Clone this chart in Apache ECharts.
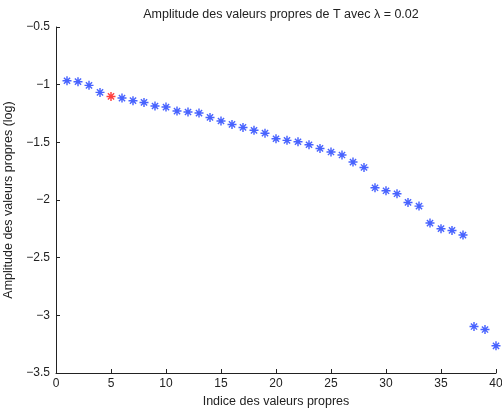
<!DOCTYPE html>
<html>
<head>
<meta charset="utf-8">
<script src="https://cdn.jsdelivr.net/npm/echarts@6/dist/echarts.min.js"></script>
<style>
  html, body { margin: 0; padding: 0; background: #fff; }
  #chart { width: 502px; height: 412px; }
</style>
</head>
<body>
<div id="chart"></div>
<script>
// eigenvalue index 1..40
const indices = [];
for (let i = 1; i <= 40; i++) indices.push(i);
// log amplitude
const amplitudes = [
  -0.966, -0.974, -1.006, -1.067, -1.102, -1.116, -1.139, -1.154, -1.185, -1.194,
  -1.229, -1.237, -1.246, -1.284, -1.315, -1.345, -1.371, -1.396, -1.421, -1.469,
  -1.483, -1.495, -1.521, -1.553, -1.584, -1.610, -1.671, -1.718, -1.894, -1.920,
  -1.946, -2.021, -2.053, -2.200, -2.249, -2.264, -2.304, -3.097, -3.123, -3.264
];
const highlightIndex = 5; // the red one

// asterisk marker, 8 arms
const star = "path://M0 4.2L10 4.2L10 5.8L0 5.8Z" +
  "M4.2 0L5.8 0L5.8 10L4.2 10Z" +
  "M1.0 2.1L2.1 1.0L9.0 7.9L7.9 9.0Z" +
  "M7.9 1.0L9.0 2.1L2.1 9.0L1.0 7.9Z";

const font = "Liberation Sans";
const minus = (v) => String(v).replace("-", "\u2212");

const points = indices.map((idx, i) => {
  const p = { value: [idx, amplitudes[i]] };
  if (idx === highlightIndex) p.itemStyle = { color: "#ff1010" };
  return p;
});

var myChart = echarts.init(document.getElementById("chart"));
var option = {
  animation: false,
  title: {
    text: "Amplitude des valeurs propres de T avec \u03bb = 0.02",
    left: 276,
    textAlign: "center",
    top: 3,
    textStyle: { fontFamily: font, fontSize: 12.5, fontWeight: "normal", color: "#222" },
  },
  grid: { left: 56, right: 6, top: 27, bottom: 39, outerBoundsMode: "none", containLabel: false },
  xAxis: {
    type: "value",
    min: 0,
    max: 40,
    interval: 5,
    name: "Indice des valeurs propres",
    nameLocation: "middle",
    nameGap: 18,
    nameTextStyle: { fontFamily: font, fontSize: 12.5, color: "#222", verticalAlign: "top" },
    axisLine: { lineStyle: { color: "#222", width: 1 } },
    axisTick: { inside: true, length: 4, lineStyle: { color: "#222" } },
    axisLabel: { fontFamily: font, fontSize: 12, color: "#222", margin: 5, formatter: minus },
    splitLine: { show: false },
  },
  yAxis: {
    type: "value",
    min: -3.5,
    max: -0.5,
    interval: 0.5,
    name: "Amplitude des valeurs propres (log)",
    nameLocation: "middle",
    nameGap: 37,
    nameTextStyle: { fontFamily: font, fontSize: 12.5, color: "#222" },
    axisLine: { show: true, lineStyle: { color: "#222", width: 1 } },
    axisTick: { show: true, inside: true, length: 4, lineStyle: { color: "#222" } },
    axisLabel: { fontFamily: font, fontSize: 12, color: "#222", margin: 6, formatter: minus },
    splitLine: { show: false },
  },
  series: [
    {
      type: "scatter",
      symbol: star,
      symbolSize: 9,
      itemStyle: { color: "#1a3cff" },
      data: points,
    },
  ],
};
myChart.setOption(option, true);
</script>
</body>
</html>
